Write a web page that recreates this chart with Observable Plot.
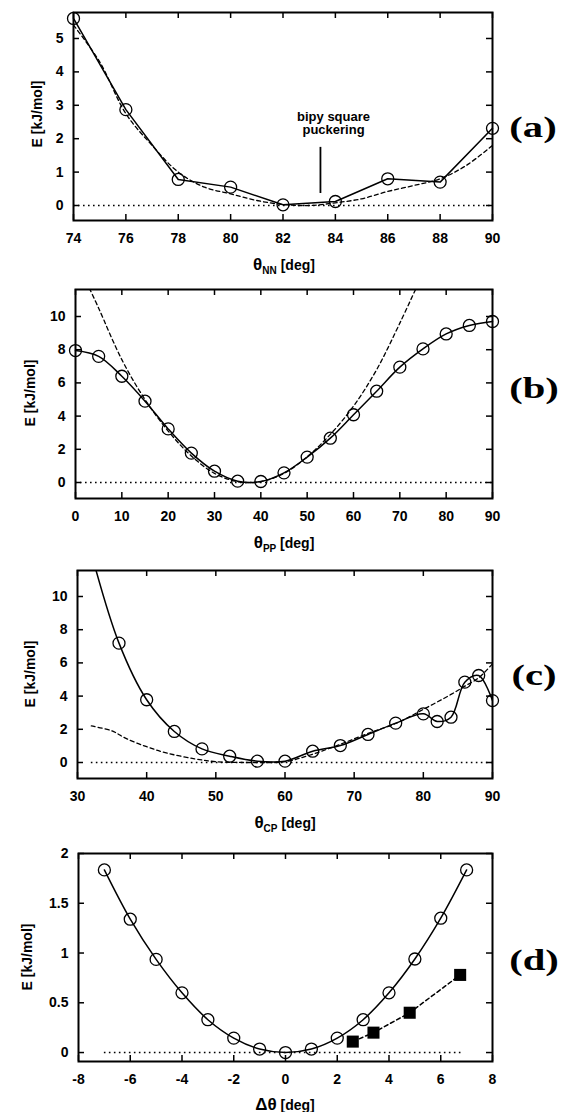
<!DOCTYPE html>
<html><head><meta charset="utf-8">
<script src="https://cdn.jsdelivr.net/npm/d3@7"></script>
<script src="https://cdn.jsdelivr.net/npm/@observablehq/plot@0.6"></script>
<style>
body{margin:0;background:#fff;}
#root{position:relative;width:563px;height:1112px;overflow:hidden;font-family:"Liberation Sans",Arial,sans-serif;color:#000;background:#fff;}
.panel{position:absolute;left:0;}
.xl{position:absolute;transform:translate(-50%,-50%);white-space:nowrap;font-weight:bold;font-size:14px;line-height:1;}
.xl .th{font-size:17px;}
.xl sub{font-size:10px;vertical-align:-4px;}
.yl{position:absolute;transform:translate(-50%,-50%) rotate(-90deg);white-space:nowrap;font-weight:bold;font-size:14px;line-height:1;}
.tag{position:absolute;font-family:"Liberation Serif","Times New Roman",serif;font-weight:bold;font-size:29px;line-height:1;transform:translate(-50%,-50%) scaleX(1.4);}
</style></head><body><div id="root"></div>
<script>
// ---------- Panel (a) ----------
const thetaNN = [74, 76, 78, 80, 82, 84, 86, 88, 90];
const energyNN = [5.6, 2.87, 0.78, 0.55, 0.02, 0.12, 0.8, 0.7, 2.31];
const fitNNx = [74, 75, 76, 77, 78, 79, 80, 81, 82, 83, 84, 85, 86, 87, 88, 89, 90];
const fitNNy = [5.4, 4.3, 2.75, 1.8, 1.0, 0.55, 0.35, 0.15, 0.03, 0.0, 0.08, 0.2, 0.42, 0.6, 0.8, 1.2, 1.8];
const ticksNNx = [74, 76, 78, 80, 82, 84, 86, 88, 90];
const ticksNNy = [0, 1, 2, 3, 4, 5];
const annotText = ["bipy square\npuckering"];
const annotTextX = [83.93];
const annotTextY = [2.47];
const annotLineX = [83.43];
const annotLineY1 = [0.36];
const annotLineY2 = [1.74];

// ---------- Panel (b) ----------
const thetaPP = [0, 5, 10, 15, 20, 25, 30, 35, 40, 45, 50, 55, 60, 65, 70, 75, 80, 85, 90];
const energyPP = [7.95, 7.6, 6.4, 4.9, 3.23, 1.77, 0.68, 0.08, 0.06, 0.58, 1.53, 2.67, 4.08, 5.5, 6.95, 8.05, 8.95, 9.46, 9.7];
const fitPPx = [3, 5, 10, 15, 20, 25, 30, 35, 40, 45, 50, 55, 60, 65, 70, 73.5];
const fitPPy = [11.7, 10.5, 7.4, 5.0, 3.1, 1.6, 0.55, 0.05, 0.05, 0.55, 1.55, 2.9, 4.6, 6.8, 9.6, 11.7];
const ticksPPx = [0, 10, 20, 30, 40, 50, 60, 70, 80, 90];
const ticksPPy = [0, 2, 4, 6, 8, 10];

// ---------- Panel (c) ----------
const thetaCP = [36, 40, 44, 48, 52, 56, 60, 64, 68, 72, 76, 80, 82, 84, 86, 88, 90];
const energyCP = [7.19, 3.78, 1.87, 0.82, 0.38, 0.08, 0.08, 0.68, 1.02, 1.69, 2.37, 2.93, 2.47, 2.73, 4.84, 5.24, 3.73];
const lineCPx = [32, 36, 40, 44, 48, 52, 56, 60, 64, 68, 72, 76, 80, 82, 84, 86, 88, 90];
const lineCPy = [12.6, 7.19, 3.78, 1.87, 0.82, 0.38, 0.08, 0.08, 0.68, 1.02, 1.69, 2.37, 2.93, 2.47, 2.73, 4.84, 5.24, 3.73];
const fitCPx = [32, 35, 37, 40, 43, 47, 50, 55, 60, 64, 68, 72, 76, 80, 84, 86, 88, 90];
const fitCPy = [2.2, 1.9, 1.45, 0.95, 0.56, 0.22, 0.05, 0.0, 0.05, 0.5, 1.1, 1.75, 2.35, 3.2, 4.1, 4.6, 5.1, 5.95];
const ticksCPx = [30, 40, 50, 60, 70, 80, 90];
const ticksCPy = [0, 2, 4, 6, 8, 10];

// ---------- Panel (d) ----------
const dTheta = [-7, -6, -5, -4, -3, -2, -1, 0, 1, 2, 3, 4, 5, 6, 7];
const energyD = [1.835, 1.34, 0.936, 0.6, 0.33, 0.145, 0.035, 0.0, 0.035, 0.145, 0.33, 0.6, 0.94, 1.35, 1.835];
const squareX = [2.6, 3.4, 4.8, 6.75];
const squareY = [0.11, 0.2, 0.4, 0.78];
const ticksDx = [-8, -6, -4, -2, 0, 2, 4, 6, 8];
const ticksDy = [0, 0.5, 1, 1.5, 2];

const zip = (xs, ys) => xs.map((x, i) => ({x, y: ys[i]}));
const root = document.getElementById("root");

function panel({top, ml, mr, innerH, xDomain, yDomain, xt, yt, zeroX, marks}) {
  const mt = 12, mb = 34;
  const innerW = 563 - ml - mr;
  const sw = 1.5;
  const p = Plot.plot({
    width: 563, height: mt + innerH + mb,
    marginLeft: ml, marginRight: mr, marginTop: mt, marginBottom: mb,
    x: {domain: xDomain, ticks: xt, tickSize: 0, tickPadding: 13, label: null, tickFormat: d => String(d)},
    y: {domain: yDomain, ticks: yt, tickSize: 0, tickPadding: 10, label: null, tickFormat: d => String(d)},
    style: {fontFamily: '"Liberation Sans", Arial, sans-serif', fontSize: "14px", fontWeight: "bold", color: "#000", background: "white", overflow: "visible"},
    marks: [
      Plot.ruleY([0], {x1: zeroX[0], x2: zeroX[1], strokeDasharray: "1.6,3.4", strokeWidth: 1.6}),
      ...marks,
      Plot.tickX(xt, {x: d => d, insetTop: innerH - 6, strokeWidth: sw}),
      Plot.tickX(xt, {x: d => d, insetBottom: innerH - 6, strokeWidth: sw}),
      Plot.tickY(yt, {y: d => d, insetRight: innerW - 6, strokeWidth: sw}),
      Plot.tickY(yt, {y: d => d, insetLeft: innerW - 6, strokeWidth: sw}),
      Plot.frame({strokeWidth: 2})
    ]
  });
  p.classList.add("panel");
  p.style.top = (top - mt) + "px";
  root.appendChild(p);
}

const circ = {r: 6, stroke: "black", fill: "none", strokeWidth: 1.3};

// (a)
panel({
  top: 12, ml: 73, mr: 71, innerH: 208,
  xDomain: [74, 90], yDomain: [-0.449, 5.778], xt: ticksNNx, yt: ticksNNy, zeroX: [74, 90],
  marks: [
    Plot.line(zip(fitNNx, fitNNy), {x: "x", y: "y", curve: "catmull-rom", strokeDasharray: "4,3", strokeWidth: 1.3, clip: true}),
    Plot.line(zip(thetaNN, energyNN), {x: "x", y: "y", strokeWidth: 1.5}),
    Plot.dot(zip(thetaNN, energyNN), {x: "x", y: "y", ...circ}),
    Plot.ruleX(annotLineX, {x: d => d, y1: annotLineY1[0], y2: annotLineY2[0], strokeWidth: 1.8}),
    Plot.text(annotText, {x: annotTextX[0], y: annotTextY[0], text: d => d, fontSize: 13, fontWeight: "bold", lineHeight: 1.0, textAnchor: "middle"})
  ]
});

// (b)
panel({
  top: 289, ml: 75, mr: 71, innerH: 209,
  xDomain: [0, 90], yDomain: [-0.964, 11.627], xt: ticksPPx, yt: ticksPPy, zeroX: [0, 90],
  marks: [
    Plot.line(zip(fitPPx, fitPPy), {x: "x", y: "y", curve: "catmull-rom", strokeDasharray: "4,3", strokeWidth: 1.3, clip: true}),
    Plot.line(zip(thetaPP, energyPP), {x: "x", y: "y", curve: "catmull-rom", strokeWidth: 1.5}),
    Plot.dot(zip(thetaPP, energyPP), {x: "x", y: "y", ...circ})
  ]
});

// (c)
panel({
  top: 570, ml: 77, mr: 71, innerH: 208,
  xDomain: [30, 90], yDomain: [-0.964, 11.566], xt: ticksCPx, yt: ticksCPy, zeroX: [32, 90],
  marks: [
    Plot.line(zip(fitCPx, fitCPy), {x: "x", y: "y", curve: "catmull-rom", strokeDasharray: "4,3", strokeWidth: 1.3, clip: true}),
    Plot.line(zip(lineCPx, lineCPy), {x: "x", y: "y", curve: "catmull-rom", strokeWidth: 1.5, clip: true}),
    Plot.dot(zip(thetaCP, energyCP), {x: "x", y: "y", ...circ})
  ]
});

// (d)
panel({
  top: 853, ml: 78, mr: 71, innerH: 208,
  xDomain: [-8, 8], yDomain: [-0.09, 2.0], xt: ticksDx, yt: ticksDy, zeroX: [-7, 6.9],
  marks: [
    Plot.line(zip(dTheta, energyD), {x: "x", y: "y", curve: "catmull-rom", strokeWidth: 1.5}),
    Plot.dot(zip(dTheta, energyD), {x: "x", y: "y", ...circ}),
    Plot.line(zip(squareX, squareY), {x: "x", y: "y", strokeDasharray: "4,3", strokeWidth: 1.5}),
    Plot.dot(zip(squareX, squareY), {x: "x", y: "y", symbol: "square", r: 6.8, fill: "black"})
  ]
});

function addHTML(cls, html, x, y) {
  const d = document.createElement("div");
  d.className = cls; d.innerHTML = html;
  d.style.left = x + "px"; d.style.top = y + "px";
  root.appendChild(d);
}
addHTML("xl", '<span class="th">θ</span><sub>NN</sub> [deg]', 284, 266);
addHTML("xl", '<span class="th">θ</span><sub>PP</sub> [deg]', 284, 544);
addHTML("xl", '<span class="th">θ</span><sub>CP</sub> [deg]', 285, 824);
addHTML("xl", '<span class="th">Δθ</span> [deg]', 285, 1104);
addHTML("yl", "E [kJ/mol]", 37, 114);
addHTML("yl", "E [kJ/mol]", 30, 393);
addHTML("yl", "E [kJ/mol]", 30, 674);
addHTML("yl", "E [kJ/mol]", 27, 957);
addHTML("tag", "(a)", 533, 127);
addHTML("tag", "(b)", 534, 388);
addHTML("tag", "(c)", 534, 675);
addHTML("tag", "(d)", 534, 960);
</script>
</body></html>
